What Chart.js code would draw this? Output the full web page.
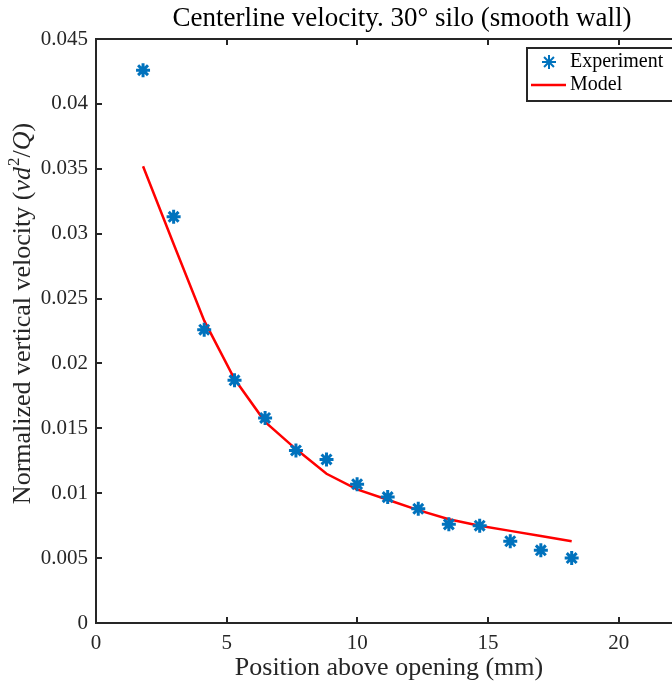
<!DOCTYPE html>
<html>
<head>
<meta charset="utf-8">
<script src="https://cdn.jsdelivr.net/npm/chart.js@4/dist/chart.umd.min.js"></script>
<style>
  html, body { margin: 0; padding: 0; background: #fff; }
  #wrap { width: 672px; height: 683px; }
</style>
</head>
<body>
<div id="wrap"><canvas id="chart" width="672" height="683"></canvas></div>
<script>
// Data
const positions = [1.8, 2.97, 4.14, 5.3, 6.47, 7.65, 8.82, 9.99, 11.16, 12.33, 13.5, 14.68, 15.85, 17.02, 18.2];
const experiment = [0.0426, 0.0313, 0.0226, 0.0187, 0.0158, 0.0133, 0.0126, 0.0107, 0.0097, 0.0088, 0.0076, 0.0075, 0.0063, 0.0056, 0.0050];
const model = [0.0352, 0.0292, 0.0233, 0.0188, 0.0155, 0.0134, 0.0115, 0.0103, 0.0095, 0.0087, 0.0080, 0.0075, 0.0071, 0.0067, 0.0063];
const xTicks = [0, 5, 10, 15, 20];
const yTicks = [0, 0.005, 0.01, 0.015, 0.02, 0.025, 0.03, 0.035, 0.04, 0.045];

const titleText = 'Centerline velocity. 30\u00B0 silo (smooth wall)';
const xLabel = 'Position above opening (mm)';

const FONT = '"Liberation Serif", "Times New Roman", serif';
const AXIS = '#262626';
const BLUE = '#0072BD';

// Axes box, inward ticks, title, labels and legend
const decor = {
  id: 'decor',
  afterDraw(chart) {
    const ctx = chart.ctx;
    const a = chart.chartArea;
    const xs = chart.scales.x;
    const ys = chart.scales.y;
    ctx.save();
    ctx.strokeStyle = AXIS;
    ctx.lineWidth = 2;
    ctx.beginPath();
    ctx.moveTo(a.right + 5, a.top);
    ctx.lineTo(a.left, a.top);
    ctx.lineTo(a.left, a.bottom);
    ctx.lineTo(a.right + 5, a.bottom);
    ctx.stroke();
    ctx.beginPath();
    xTicks.forEach(v => {
      const px = Math.round(xs.getPixelForValue(v));
      ctx.moveTo(px, a.bottom); ctx.lineTo(px, a.bottom - 6);
      ctx.moveTo(px, a.top); ctx.lineTo(px, a.top + 6);
    });
    yTicks.forEach(v => {
      const py = Math.round(ys.getPixelForValue(v));
      ctx.moveTo(a.left, py); ctx.lineTo(a.left + 6, py);
    });
    ctx.stroke();

    // title
    ctx.fillStyle = '#000';
    ctx.font = '27px ' + FONT;
    ctx.textAlign = 'center';
    ctx.textBaseline = 'middle';
    ctx.fillText(titleText, 402, 19);

    // x label
    ctx.fillStyle = '#262626';
    ctx.font = '26px ' + FONT;
    ctx.fillText(xLabel, 389, 668);

    // y label with italic part
    ctx.save();
    ctx.translate(23, 314);
    ctx.rotate(-Math.PI / 2);
    const parts = [
      { t: 'Normalized vertical velocity (', f: '26px ' + FONT, dy: 0 },
      { t: 'vd', f: 'italic 26px ' + FONT, dy: 0 },
      { t: '2', f: '17px ' + FONT, dy: -8 },
      { t: '/', f: '26px ' + FONT, dy: 0 },
      { t: 'Q', f: 'italic 26px ' + FONT, dy: 0 },
      { t: ')', f: '26px ' + FONT, dy: 0 }
    ];
    let total = 0;
    parts.forEach(p => { ctx.font = p.f; p.w = ctx.measureText(p.t).width; total += p.w; });
    let cx = -total / 2;
    ctx.textAlign = 'left';
    parts.forEach(p => {
      ctx.font = p.f;
      ctx.fillText(p.t, cx, p.dy);
      cx += p.w + (p.t === 'vd' ? 1 : 0);
    });
    ctx.restore();

    // legend
    const lx = 527, ly = 48, lw = 160, lh = 53;
    ctx.fillStyle = '#fff';
    ctx.fillRect(lx, ly, lw, lh);
    ctx.lineWidth = 2;
    ctx.strokeStyle = AXIS;
    ctx.strokeRect(lx, ly, lw, lh);
    ctx.strokeStyle = BLUE;
    ctx.fillStyle = BLUE;
    Chart.helpers.drawPoint(ctx, { pointStyle: 'star', radius: 7, borderWidth: 3 }, 549, 62);
    ctx.strokeStyle = 'red';
    ctx.lineWidth = 2.5;
    ctx.beginPath();
    ctx.moveTo(531, 85); ctx.lineTo(566, 85);
    ctx.stroke();
    ctx.fillStyle = '#000';
    ctx.font = '20px ' + FONT;
    ctx.textAlign = 'left';
    ctx.fillText('Experiment', 570, 62);
    ctx.fillText('Model', 570, 85);
    ctx.restore();
  }
};

const ctx = document.getElementById('chart');
new Chart(ctx, {
  type: 'scatter',
  data: {
    datasets: [
      {
        label: 'Experiment',
        data: positions.map((x, i) => ({ x: x, y: experiment[i] })),
        pointStyle: 'star',
        pointRadius: 7,
        pointBorderWidth: 3,
        borderColor: BLUE,
        backgroundColor: BLUE,
        showLine: false
      },
      {
        label: 'Model',
        data: positions.map((x, i) => ({ x: x, y: model[i] })),
        showLine: true,
        borderColor: 'red',
        borderWidth: 2.5,
        pointRadius: 0,
        fill: false
      }
    ]
  },
  options: {
    responsive: false,
    animation: false,
    devicePixelRatio: 1,
    layout: { autoPadding: false, padding: { top: 39, right: 1, left: 0, bottom: 0 } },
    plugins: {
      legend: { display: false },
      title: { display: false },
      tooltip: { enabled: false }
    },
    scales: {
      x: {
        type: 'linear',
        min: 0,
        max: 22,
        afterBuildTicks: s => { s.ticks = xTicks.map(v => ({ value: v })); },
        afterFit: s => { s.height = 60; s.paddingLeft = 0; s.paddingRight = 0; },
        grid: { display: false, drawTicks: false },
        border: { display: false },
        ticks: { padding: 8, color: '#262626', font: { family: FONT, size: 21 } }
      },
      y: {
        type: 'linear',
        min: 0,
        max: 0.045,
        afterBuildTicks: s => { s.ticks = yTicks.map(v => ({ value: v })); },
        afterFit: s => { s.width = 96; s.paddingTop = 0; s.paddingBottom = 0; },
        grid: { display: false, drawTicks: false },
        border: { display: false },
        ticks: {
          padding: 8,
          color: '#262626',
          font: { family: FONT, size: 21 },
          callback: v => String(Number(v.toFixed(3)))
        }
      }
    }
  },
  plugins: [decor]
});
</script>
</body>
</html>
